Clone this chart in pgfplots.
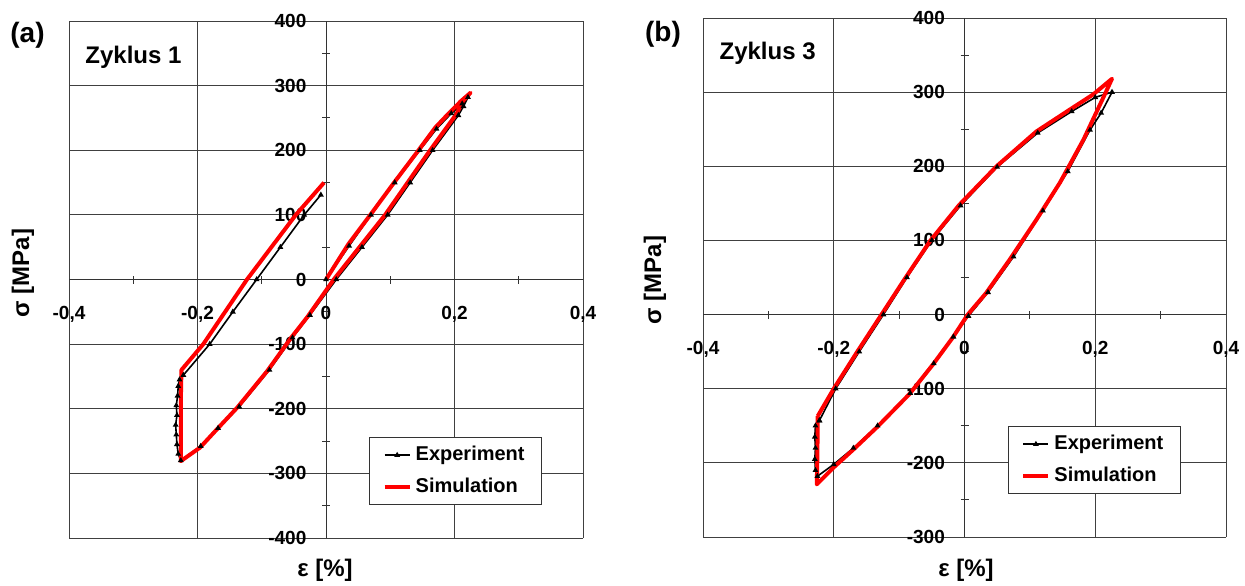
\documentclass[border=0pt]{standalone}
\usepackage{fontspec}
\setmainfont{Liberation Sans}
\usepackage{pgfplots}
\pgfplotsset{compat=1.18}
\pgfplotsset{
  hyst/.style={
    scale only axis,
    axis lines=middle,
    axis line style={-, black!80, line width=0.5pt},
    xmin=-0.4, xmax=0.4,
    xtick={-0.4,-0.2,0,0.2,0.4},
    xticklabels={{-0,4},{-0,2},{0},{0,2},{0,4}},
    minor x tick num=1, minor y tick num=1,
    grid=major,
    major grid style={black!75, line width=0.5pt},
    tick style={black!80, line width=0.5pt},
    major tick length=0pt,
    minor tick length=4pt,
    tick align=center,
    hide obscured x ticks=false, hide obscured y ticks=false,
    ticklabel style={font=\bfseries\fontsize{9.5}{10}\selectfont},
    xticklabel style={yshift=-10pt},
    yticklabel style={xshift=-6.3pt},
    legend style={draw=black!80, fill=white, line width=0.5pt,
      font=\bfseries\fontsize{10}{12}\selectfont,
      inner xsep=6.5pt, inner ysep=2.5pt, row sep=3pt,
      cells={anchor=west}, anchor=south west},
    legend image code/.code={\draw[mark repeat=2,mark phase=2,##1] plot coordinates {(0pt,0pt)(6.25pt,0pt)(12.5pt,0pt)};},
    clip=false,
  },
  expstyle/.style={black, line width=0.8pt, mark=triangle*, mark size=0.9pt},
  simstyle/.style={red, line width=2pt, line join=round, mark=none},
}
\begin{document}
\begin{tikzpicture}
\useasboundingbox (0pt,0pt) rectangle (622.5pt,292.5pt);
% ---------------- panel (a)
\begin{axis}[hyst, at={(34.5pt,23.5pt)}, anchor=south west,
  width=257pt, height=258.5pt,
  ymin=-400, ymax=400,
  ytick={-400,-300,-200,-100,0,100,200,300,400},
  yticklabels={-400,-300,-200,-100,0,100,200,300,400},
  legend style={at={(0.584,0.064)}}]
\addplot[expstyle] coordinates {
(0,0) (0.036,52) (0.070,100) (0.107,150) (0.146,200) (0.172,233) (0.195,257) (0.212,272) (0.221,282)
(0.214,268) (0.206,254) (0.166,200) (0.131,150) (0.096,100) (0.056,50) (0.016,0) (-0.025,-55)
(-0.052,-90) (-0.088,-140) (-0.135,-197) (-0.168,-230) (-0.195,-258) (-0.226,-280)
(-0.230,-270) (-0.232,-255) (-0.233,-240) (-0.234,-225) (-0.232,-210) (-0.233,-195) (-0.231,-180)
(-0.230,-165) (-0.228,-155) (-0.222,-148)
(-0.181,-100) (-0.145,-50) (-0.108,0) (-0.071,50) (-0.034,100) (-0.008,131)
};
\addlegendentry{Experiment}
\addplot[simstyle] coordinates {
(0,0) (0.035,55) (0.069,100) (0.106,150) (0.144,200) (0.170,235) (0.190,256) (0.210,276) (0.225,289)
(0.213,276) (0.203,256) (0.162,200) (0.127,150) (0.092,100) (0.052,50) (0.012,0) (0,-17)
(-0.029,-58) (-0.055,-91) (-0.091,-141) (-0.138,-198) (-0.170,-232) (-0.196,-260) (-0.226,-281)
(-0.226,-240) (-0.226,-190) (-0.225,-140)
(-0.191,-100) (-0.157,-50) (-0.123,0) (-0.085,50) (-0.047,100) (-0.003,150)
};
\addlegendentry{Simulation}
\end{axis}
% ---------------- panel (b)
\begin{axis}[hyst, at={(351.5pt,24pt)}, anchor=south west,
  width=261.5pt, height=259.5pt,
  ymin=-300, ymax=400,
  ytick={-300,-200,-100,0,100,200,300,400},
  yticklabels={-300,-200,-100,0,100,200,300,400},
  legend style={at={(0.583,0.083)}}]
\addplot[expstyle] coordinates {
(-0.222,-143) (-0.197,-100) (-0.161,-50) (-0.124,0) (-0.088,50) (-0.050,100) (-0.006,147)
(0.050,199) (0.112,245) (0.164,274) (0.200,293) (0.2256,300)
(0.209,272) (0.192,249) (0.158,193) (0.120,140) (0.075,78) (0.036,30) (0.006,-2)
(-0.017,-30) (-0.047,-66) (-0.083,-106) (-0.133,-150) (-0.170,-180) (-0.200,-202) (-0.225,-218)
(-0.228,-210) (-0.229,-195) (-0.228,-180) (-0.229,-165) (-0.228,-150) (-0.222,-143)
};
\addlegendentry{Experiment}
\addplot[simstyle] coordinates {
(-0.2246,-137) (-0.200,-100) (-0.164,-50) (-0.127,0) (-0.090,50) (-0.052,100) (-0.008,148)
(0.049,200) (0.110,247) (0.162,277) (0.197,297) (0.2256,318)
(0.213,294) (0.182,236) (0.146,178) (0.110,128) (0.069,74) (0.033,29) (0.005,0)
(-0.018,-31) (-0.048,-67) (-0.084,-107) (-0.134,-152) (-0.170,-182) (-0.200,-206) (-0.226,-229)
(-0.225,-190) (-0.2246,-137)
};
\addlegendentry{Simulation}
\end{axis}
% ---------------- texts
\node[font=\bfseries\fontsize{14}{16}\selectfont] at (13.75pt,274.75pt) {(a)};
\node[font=\bfseries\fontsize{14}{16}\selectfont] at (331.5pt,275.5pt) {(b)};
\node[font=\bfseries\fontsize{12}{14}\selectfont, anchor=base west, inner sep=0pt] at (42.5pt,260.8pt) {Zyklus 1};
\node[font=\bfseries\fontsize{12}{14}\selectfont, anchor=base west, inner sep=0pt] at (359.6pt,262.5pt) {Zyklus 3};
\node[font=\bfseries\fontsize{12}{14}\selectfont, rotate=90] at (11.5pt,156pt) {σ [MPa]};
\node[font=\bfseries\fontsize{12}{14}\selectfont, rotate=90] at (327.5pt,152.5pt) {σ [MPa]};
\node[font=\bfseries\fontsize{12}{14}\selectfont] at (162.5pt,7.5pt) {ε [\%]};
\node[font=\bfseries\fontsize{12}{14}\selectfont] at (483pt,7.5pt) {ε [\%]};
\end{tikzpicture}
\end{document}
